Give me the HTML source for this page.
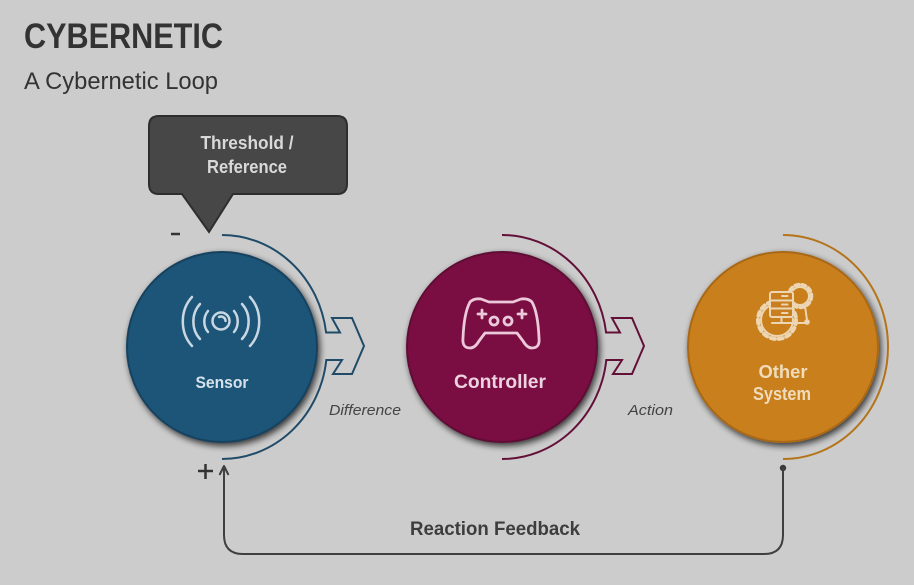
<!DOCTYPE html>
<html><head><meta charset="utf-8"><style>
html,body{margin:0;padding:0;background:#cccccc;}
svg{display:block;}
</style></head><body>
<svg width="914" height="585" viewBox="0 0 914 585" xmlns="http://www.w3.org/2000/svg">
<defs>
<filter id="sh" x="-25%" y="-25%" width="150%" height="150%">
<feGaussianBlur in="SourceAlpha" stdDeviation="3.5"/>
<feOffset dx="2" dy="3" result="b"/>
<feComponentTransfer><feFuncA type="linear" slope="0.75"/></feComponentTransfer>
<feMerge><feMergeNode/><feMergeNode in="SourceGraphic"/></feMerge>
</filter>
</defs>
<rect width="914" height="585" fill="#cccccc"/>

<!-- Title -->
<text x="24" y="48" font-family="Liberation Sans, sans-serif" font-weight="bold" font-size="35" fill="#333" textLength="199" lengthAdjust="spacingAndGlyphs">CYBERNETIC</text>
<text x="24" y="89" font-family="Liberation Sans, sans-serif" font-size="24" fill="#333" textLength="194" lengthAdjust="spacingAndGlyphs">A Cybernetic Loop</text>

<!-- Callout -->
<path d="M159,116 H337 Q347,116 347,126 V184 Q347,194 337,194 H233 L209,232 L182,194 H159 Q149,194 149,184 V126 Q149,116 159,116 Z" fill="#474747" stroke="#2e2e2e" stroke-width="2"/>
<text x="247" y="149" text-anchor="middle" font-family="Liberation Sans, sans-serif" font-weight="bold" font-size="18" fill="#d9d9d9" textLength="93" lengthAdjust="spacingAndGlyphs">Threshold /</text>
<text x="247" y="173" text-anchor="middle" font-family="Liberation Sans, sans-serif" font-weight="bold" font-size="18" fill="#d9d9d9" textLength="80" lengthAdjust="spacingAndGlyphs">Reference</text>

<!-- minus / plus -->
<line x1="171" y1="234" x2="180" y2="234" stroke="#333" stroke-width="2.5"/>
<line x1="198" y1="471" x2="213" y2="471" stroke="#333" stroke-width="2.5"/>
<line x1="205.5" y1="464" x2="205.5" y2="479" stroke="#333" stroke-width="2.5"/>

<!-- Arcs with chevrons -->
<path d="M222,235 A105 112 0 0 1 326.1,332.5 L340,332.5 L332,318 L352,318 L364,346 L352,374 L333,374 L342,360 L326.3,360 A105 112 0 0 1 222,459" fill="none" stroke="#1f4b69" stroke-width="2"/>
<path d="M502,235 A105 112 0 0 1 606.1,332.5 L620,332.5 L612,318 L632,318 L644,346 L632,374 L613,374 L622,360 L606.3,360 A105 112 0 0 1 502,459" fill="none" stroke="#631038" stroke-width="2"/>
<path d="M783,235 A105 112 0 0 1 783,459" fill="none" stroke="#b5741a" stroke-width="2"/>

<!-- Circles -->
<circle cx="222" cy="347" r="95" fill="#1d5477" stroke="#17425f" stroke-width="2" filter="url(#sh)"/>
<circle cx="502" cy="347" r="95" fill="#7a1143" stroke="#5f0d34" stroke-width="2" filter="url(#sh)"/>
<circle cx="783" cy="347" r="95" fill="#c97f1f" stroke="#a86816" stroke-width="2" filter="url(#sh)"/>

<!-- Sensor icon -->
<g fill="none" stroke="#c9d7e3" stroke-width="2.5" stroke-linecap="round">
<circle cx="221" cy="321" r="8.5"/>
<path d="M219,317 A4.5 4.5 0 0 1 225.5,321"/>
<path d="M208,311 A13 15 0 0 0 208,332"/>
<path d="M234,311 A13 15 0 0 1 234,332"/>
<path d="M200,304 A21 24 0 0 0 200,339"/>
<path d="M242,304 A21 24 0 0 1 242,339"/>
<path d="M192,297 A30 34 0 0 0 192,346"/>
<path d="M250,297 A30 34 0 0 1 250,346"/>
</g>
<text x="222" y="388" text-anchor="middle" font-family="Liberation Sans, sans-serif" font-weight="bold" font-size="17" fill="#d6e2ec" textLength="53" lengthAdjust="spacingAndGlyphs">Sensor</text>

<!-- Controller icon -->
<g fill="none" stroke="#ecc9da" stroke-width="2.8" stroke-linecap="round" stroke-linejoin="round">
<path d="M470,302 Q474,298 481,299 L489,302 L513,302 L521,299 Q528,298 532,302 Q538,313 539,338 Q540,348 532,348 Q527,348 523,341 L517,333 L485,333 L479,341 Q475,348 470,348 Q462,348 463,338 Q464,313 470,302 Z"/>
<line x1="478" y1="314" x2="486" y2="314"/><line x1="482" y1="310" x2="482" y2="318"/>
<line x1="518" y1="314" x2="526" y2="314"/><line x1="522" y1="310" x2="522" y2="318"/>
<circle cx="494" cy="321" r="4"/>
<circle cx="508" cy="321" r="4"/>
</g>
<text x="500" y="388" text-anchor="middle" font-family="Liberation Sans, sans-serif" font-weight="bold" font-size="19" fill="#ecd3df" textLength="92" lengthAdjust="spacingAndGlyphs">Controller</text>

<!-- Other system icon -->
<g fill="none" stroke="#ecd6b4" stroke-width="2" stroke-linecap="round" stroke-linejoin="round">
<circle cx="777" cy="320" r="16"/>
<circle cx="777" cy="320" r="19" stroke-width="4" stroke-dasharray="4 4"/>
<circle cx="800" cy="296" r="9"/>
<circle cx="800" cy="296" r="11.5" stroke-width="3.5" stroke-dasharray="3.5 3.5"/>
</g>
<rect x="769" y="291" width="25" height="27" rx="2" fill="#c97f1f"/>
<g fill="none" stroke="#ecd6b4" stroke-width="2" stroke-linecap="round" stroke-linejoin="round">
<rect x="770" y="292" width="23" height="25" rx="2" fill="#c97f1f"/>
<line x1="770" y1="300.5" x2="793" y2="300.5"/>
<line x1="770" y1="308.5" x2="793" y2="308.5"/>
<line x1="782" y1="296" x2="789" y2="296" stroke-dasharray="2 1.5"/>
<line x1="782" y1="304.5" x2="789" y2="304.5" stroke-dasharray="2 1.5"/>
<line x1="782" y1="313" x2="789" y2="313" stroke-dasharray="2 1.5"/>
<line x1="781.5" y1="317" x2="781.5" y2="323"/>
<line x1="772" y1="323" x2="805" y2="323"/>
<circle cx="807" cy="322" r="1.8" fill="#ecd6b4"/>
<line x1="805" y1="306" x2="807" y2="320"/>
</g>
<text x="783" y="378" text-anchor="middle" font-family="Liberation Sans, sans-serif" font-weight="bold" font-size="18" fill="#efdcbc" textLength="49" lengthAdjust="spacingAndGlyphs">Other</text>
<text x="782" y="400" text-anchor="middle" font-family="Liberation Sans, sans-serif" font-weight="bold" font-size="18" fill="#efdcbc" textLength="58" lengthAdjust="spacingAndGlyphs">System</text>

<!-- Labels -->
<text x="329" y="415" font-family="Liberation Sans, sans-serif" font-style="italic" font-size="15" fill="#444" textLength="72" lengthAdjust="spacingAndGlyphs">Difference</text>
<text x="628" y="415" font-family="Liberation Sans, sans-serif" font-style="italic" font-size="15" fill="#444" textLength="45" lengthAdjust="spacingAndGlyphs">Action</text>

<!-- Feedback loop -->
<circle cx="783" cy="468" r="3.2" fill="#3a3a3a"/>
<path d="M783,468 V535 Q783,554 764,554 H243 Q224,554 224,535 V468" fill="none" stroke="#3f3f3f" stroke-width="2"/>
<path d="M219.5,475 L224,466 L228.5,475" fill="none" stroke="#3f3f3f" stroke-width="2" stroke-linejoin="round"/>
<text x="495" y="535" text-anchor="middle" font-family="Liberation Sans, sans-serif" font-weight="bold" font-size="19" fill="#3d3d3d" textLength="170" lengthAdjust="spacingAndGlyphs">Reaction Feedback</text>
</svg>
</body></html>
